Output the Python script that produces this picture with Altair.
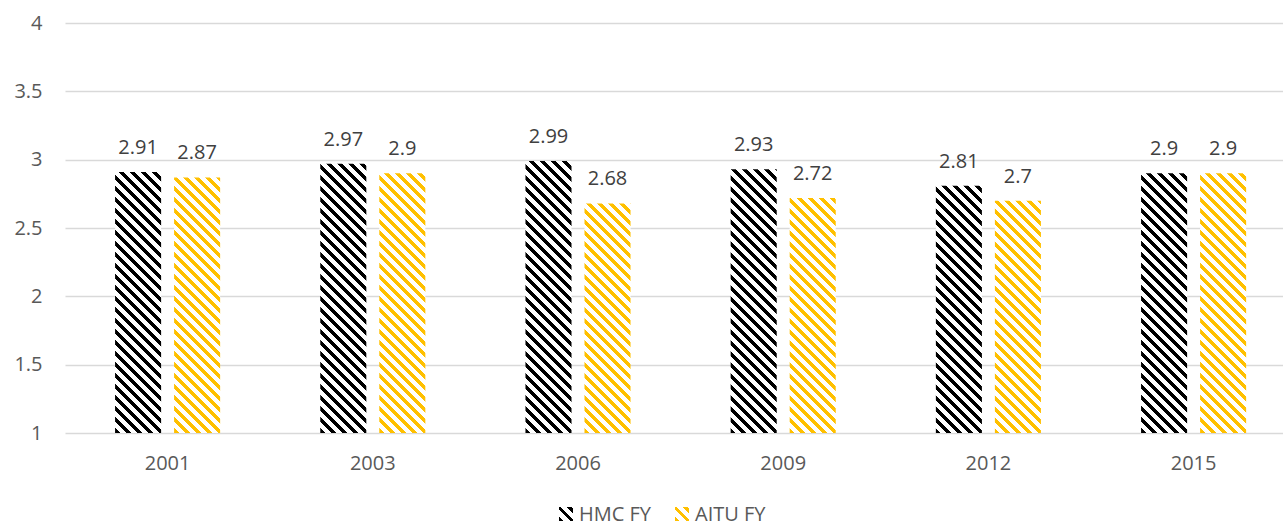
import altair as alt
import pandas as pd

# ---- data -----------------------------------------------------------------
years = ["2001", "2003", "2006", "2009", "2012", "2015"]
series = ["HMC FY", "AITU FY"]
hmc_fy = [2.91, 2.97, 2.99, 2.93, 2.81, 2.90]
aitu_fy = [2.87, 2.90, 2.68, 2.72, 2.70, 2.90]
y_ticks = [1, 1.5, 2, 2.5, 3, 3.5, 4]

series_colors = ["#000000", "#FFC000"]

rows = []
for i, yr in enumerate(years):
    rows.append({"year": yr, "series": "HMC FY", "value": hmc_fy[i]})
    rows.append({"year": yr, "series": "AITU FY", "value": aitu_fy[i]})
df = pd.DataFrame(rows)
df["label"] = df["value"].map(lambda v: f"{v:g}")

# ---- layout ---------------------------------------------------------------
FONT = "Open Sans"
W, H = 1218, 410
STEP = 205.2
X_RANGE = STEP * len(years)
X_PAD_INNER = 0.488
OFF_PAD_INNER = 0.22
Y_MIN, Y_MAX = 1, 4

band = STEP * (1 - X_PAD_INNER)
bar_w = band / (2 - OFF_PAD_INNER) * (1 - OFF_PAD_INNER)
px_per_unit = H / (Y_MAX - Y_MIN)

# legend placement (pixels, relative to the plot origin)
SWATCH = 14
LEGEND_TOP = 484
LEGEND_LEFT = [494, 610]
LABEL_GAP = 6

# ---- diagonal hatch built from a hard-stop linear gradient ----------------
PERIOD = 11.0   # stripe repeat, measured along (x - y) in pixels
INK = 0.45      # share of each repeat that is coloured


def hatch_stops(color, length):
    stops = []
    pos = 0.0
    while pos < length:
        a = pos / length
        b = min((pos + INK * PERIOD) / length, 1.0)
        c = min((pos + PERIOD) / length, 1.0)
        stops += [(a, color), (b, color), (b, "#FFFFFF"), (c, "#FFFFFF")]
        pos += PERIOD
    return [{"offset": round(o, 5), "color": col} for o, col in stops]


def hatch(color, w, h):
    """Gradient whose iso-lines run at 45 degrees ('\\') inside a w x h box."""
    length = w + h
    k = length / (w * w + h * h)
    return {
        "gradient": "linear",
        "x1": 0, "y1": 1,
        "x2": round(w * k, 6), "y2": round(1 - h * k, 6),
        "stops": hatch_stops(color, length),
    }


# ---- shared encodings -----------------------------------------------------
x_enc = alt.X(
    "year:N",
    sort=years,
    scale=alt.Scale(domain=years, range=[0, X_RANGE],
                    paddingInner=X_PAD_INNER, paddingOuter=X_PAD_INNER / 2),
    axis=alt.Axis(title=None, labelAngle=0, ticks=False, domain=False,
                  grid=False, labelPadding=20, labelFontSize=20,
                  labelColor="#595959", labelFont=FONT),
)
xo_enc = alt.XOffset(
    "series:N",
    sort=series,
    scale=alt.Scale(domain=series, paddingInner=OFF_PAD_INNER, paddingOuter=0),
)
y_enc = alt.Y(
    "value:Q",
    scale=alt.Scale(domain=[Y_MIN, Y_MAX], nice=False, zero=False),
    axis=alt.Axis(title=None, values=y_ticks, ticks=False, domain=False,
                  grid=True, gridColor="#D9D9D9", gridWidth=1.3,
                  labelPadding=23, labelFontSize=20, labelColor="#595959",
                  labelFont=FONT, labelExpr="datum.value + ''"),
)

layers = []

# one layer per bar so each bar carries its own hatch geometry
for _, r in df.iterrows():
    col = series_colors[series.index(r["series"])]
    h_px = (r["value"] - Y_MIN) * px_per_unit
    bar = alt.Chart(pd.DataFrame([r[["year", "series", "value"]].to_dict()])).mark_bar(
        fill=hatch(col, bar_w, h_px), strokeWidth=0
    ).encode(x=x_enc, xOffset=xo_enc, y=y_enc, y2=alt.datum(Y_MIN))
    layers.append(bar)

labels = alt.Chart(df).mark_text(
    baseline="alphabetic", dy=-18, fontSize=20, font=FONT, color="#404040"
).encode(x=x_enc, xOffset=xo_enc, y=y_enc, text="label:N")
layers.append(labels)

# legend: hatched swatch + label for each series
for name, col, left in zip(series, series_colors, LEGEND_LEFT):
    item = pd.DataFrame({"series": [name]})
    swatch = alt.Chart(item).mark_rect(
        fill=hatch(col, SWATCH, SWATCH), strokeWidth=0
    ).encode(
        x=alt.value(left), x2=alt.value(left + SWATCH),
        y=alt.value(LEGEND_TOP), y2=alt.value(LEGEND_TOP + SWATCH),
    )
    text = alt.Chart(item).mark_text(
        align="left", baseline="alphabetic", fontSize=20, font=FONT,
        color="#595959",
    ).encode(
        x=alt.value(left + SWATCH + LABEL_GAP),
        y=alt.value(LEGEND_TOP + SWATCH),
        text="series:N",
    )
    layers += [swatch, text]

chart = alt.layer(*layers).properties(
    width=W,
    height=H,
    autosize=alt.AutoSizeParams(type="none"),
    padding={"left": 65, "top": 23, "right": 0, "bottom": 527 - 23 - H},
    background="#FFFFFF",
).configure_view(stroke=None)

chart.save("out.html", embed_options={"renderer": "svg", "actions": False})
